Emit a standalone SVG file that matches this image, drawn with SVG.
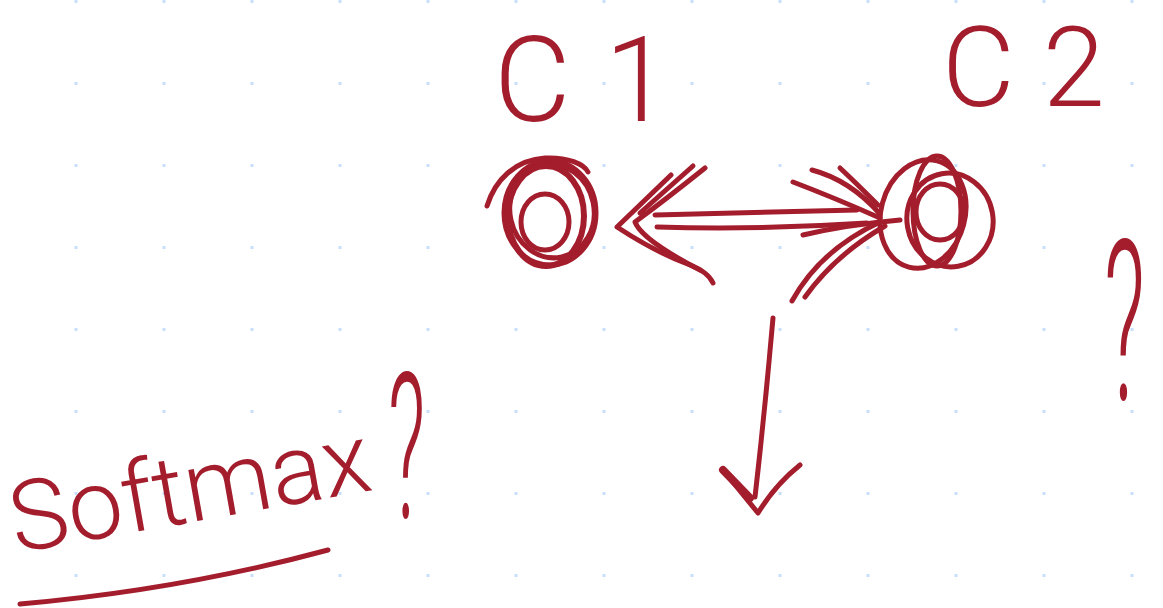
<svg xmlns="http://www.w3.org/2000/svg" width="1163" height="608" viewBox="0 0 1163 608">
  <defs>
    <pattern id="dots" x="0" y="0" width="88" height="82" patternUnits="userSpaceOnUse">
      <rect x="74.5" y="0" width="3" height="3" fill="#c8dff9"/>
    </pattern>
    <style>
      .ink { fill: none; stroke: #a31d2d; stroke-width: 5; stroke-linecap: round; stroke-linejoin: round; }
      .thick { stroke-width: 6; }
      .hand { fill: #a31d2d; font-family: Roboto, Lato, "Open Sans", "Liberation Sans", sans-serif; font-weight: 300; }
    </style>
  </defs>

  <rect width="1163" height="608" fill="#ffffff"/>
  <rect width="1163" height="608" fill="url(#dots)"/>

  <!-- labels -->
  <g id="label-c1">
    <text class="hand" x="494" y="121" font-size="118" letter-spacing="34">C1</text>
  </g>
  <g id="label-c2">
    <text class="hand" x="942" y="106" font-size="112" letter-spacing="28">C2</text>
  </g>

  <!-- node C1 -->
  <g id="node-c1" class="ink">
    <ellipse cx="550" cy="213" rx="46" ry="52"/>
    <ellipse cx="552" cy="211" rx="42" ry="47" transform="rotate(-12 552 211)"/>
    <ellipse cx="546" cy="216" rx="38" ry="50" class="thick"/>
    <ellipse cx="545" cy="222" rx="24" ry="28"/>
    <path d="M487,206 C495,180 515,160 545,158 C568,157 584,164 588,172"/>
  </g>

  <!-- node C2 -->
  <g id="node-c2" class="ink">
    <ellipse cx="923" cy="214" rx="42" ry="55" transform="rotate(15 923 214)"/>
    <ellipse cx="950" cy="220" rx="43" ry="47" transform="rotate(-10 950 220)"/>
    <ellipse cx="937" cy="211" rx="24" ry="55"/>
    <ellipse cx="940" cy="212" rx="24" ry="28"/>
  </g>

  <!-- connectors -->
  <g id="connectors" class="ink">
    <!-- shaft -->
    <path d="M655,215 Q760,212 857,210"/>
    <path d="M657,227 Q760,230 867,223"/>
    <!-- left arrowhead -->
    <path d="M671,175 L617,227 Q655,252 690,265 Q708,272 713,283"/>
    <path d="M705,168 Q665,200 635,222 Q642,240 700,270"/>
    <path d="M693,166 L640,213"/>
    <!-- right arrowhead -->
    <path d="M793,182 Q835,198 880,218"/>
    <path d="M812,170 Q850,180 880,214"/>
    <path d="M840,168 Q855,182 878,205"/>
    <path d="M803,235 Q845,225 900,220"/>
    <path d="M792,301 Q820,250 880,222"/>
    <path d="M805,297 Q835,255 885,226"/>
    <!-- down arrow -->
    <path d="M773,318 Q765,410 755,497"/>
    <path d="M723,470 L758,513 Q775,485 800,465"/>
    <path d="M723,470 L750,498" stroke-width="8"/>
  </g>

  <!-- Softmax ? -->
  <g id="softmax-label">
    <text class="hand" font-size="98" transform="translate(16,553) rotate(-10)">Softmax</text>
    <text class="hand" font-size="205" transform="translate(388,518) scale(0.4,1)">?</text>
    <path class="ink" d="M20,604 Q180,590 328,550"/>
  </g>

  <!-- right question mark -->
  <g id="question-right">
    <text class="hand" font-size="225" transform="translate(1104,400) scale(0.4,1)">?</text>
  </g>
</svg>
